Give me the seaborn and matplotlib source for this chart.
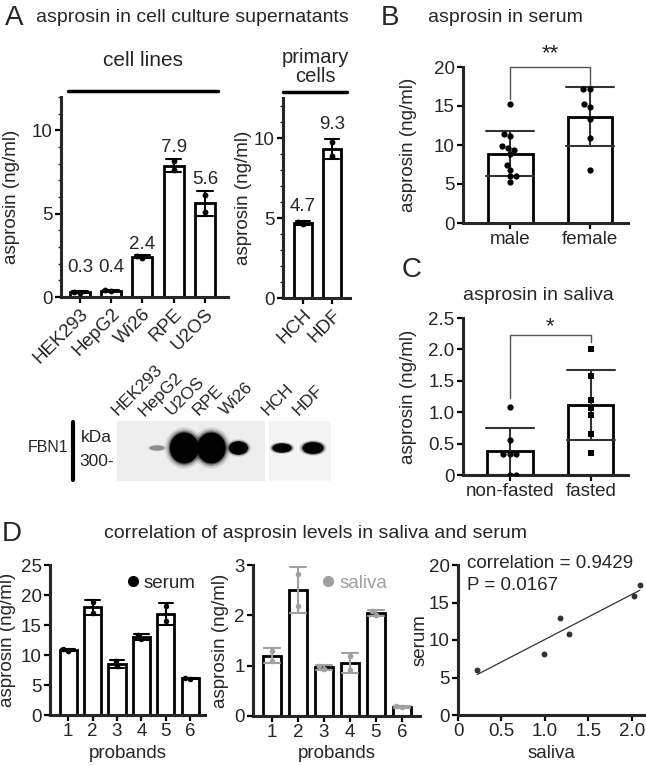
import numpy as np
import pandas as pd
import matplotlib
matplotlib.use("Agg")
import matplotlib.pyplot as plt
import matplotlib.transforms as mtransforms
from matplotlib.patches import Ellipse
from matplotlib.lines import Line2D
import seaborn as sns

# ---- data ----
cell_lines = ["HEK293", "HepG2", "Wi26", "RPE", "U2OS"]
cell_line_reps = [[0.25, 0.32], [0.36, 0.42], [2.35, 2.47], [7.6, 8.15], [5.1, 6.15]]
cell_line_labels = ["0.3", "0.4", "2.4", "7.9", "5.6"]

primary_cells = ["HCH", "HDF"]
primary_reps = [[4.6, 4.78], [8.85, 9.75]]
primary_labels = ["4.7", "9.3"]

serum_groups = ["male", "female"]
serum_male = [15.2, 11.4, 11.1, 9.9, 9.6, 9.4, 8.8, 7.5, 6.8, 6.0, 6.0, 5.2]
serum_female = [17.2, 17.2, 15.2, 14.9, 13.3, 10.9, 6.8]

saliva_groups = ["non-fasted", "fasted"]
saliva_nonfasted = [1.09, 0.56, 0.33, 0.33, 0.33, 0.0, 0.0]
saliva_fasted = [2.0, 1.58, 1.19, 1.06, 0.96, 0.66, 0.35]

probands = ["1", "2", "3", "4", "5", "6"]
proband_serum = [[10.7, 11.0], [17.0, 18.85], [8.1, 9.0], [12.7, 13.4], [15.6, 18.2], [6.0, 6.2]]
proband_saliva = [[1.1, 1.3], [2.18, 2.82], [0.93, 1.0], [0.92, 1.2], [2.0, 2.08], [0.17, 0.2]]

corr_saliva = [0.22, 0.99, 1.17, 1.28, 2.02, 2.09]
corr_serum = [6.0, 8.2, 12.9, 10.8, 15.9, 17.3]

blot_lanes_left = ["HEK293", "HepG2", "U2OS", "RPE", "Wi26"]
blot_lanes_right = ["HCH", "HDF"]
band_left = [0.0, 0.05, 1.0, 1.0, 0.35]
band_right = [0.2, 0.3]

GRAY = "#a0a0a0"
W, H = 646, 766
TICK = 13.5
LABEL = 13.5
TITLE = 14

sns.set_theme(style="ticks")
plt.rcParams["font.family"] = ["Liberation Sans", "DejaVu Sans"]
plt.rcParams["axes.linewidth"] = 2.2

fig = plt.figure(figsize=(W / 100, H / 100), dpi=100)


def px_axes(left, top, right, bottom):
    return fig.add_axes([left / W, 1 - bottom / H, (right - left) / W, (bottom - top) / H])


def ftext(x, y, s, **kw):
    kw.setdefault("ha", "center")
    kw.setdefault("va", "center")
    return fig.text(x / W, 1 - y / H, s, **kw)


def long_df(names, reps):
    rows = [(n, v) for n, r in zip(names, reps) for v in r]
    return pd.DataFrame(rows, columns=["group", "value"])


def style(ax, ylabel, ylabel_x, left, right):
    sns.despine(ax=ax)
    ax.tick_params(width=1.6, length=4, labelsize=TICK, pad=2, color="black")
    ax.set_xlabel("")
    ax.set_ylabel(ylabel, fontsize=LABEL)
    ax.yaxis.set_label_coords((ylabel_x - left) / (right - left), 0.5)


def bars(ax, df, order, width, capsize, pt_color="black", err_color="black", size=4.5):
    sns.barplot(data=df, x="group", y="value", order=order, errorbar="sd",
                color="white", edgecolor="black", linewidth=2, width=width,
                capsize=capsize, err_kws={"color": err_color, "linewidth": 1.5}, ax=ax)
    sns.swarmplot(data=df, x="group", y="value", order=order, color=pt_color,
                  size=size, ax=ax)


# ---- panel A: cell lines ----
ax = px_axes(61, 97, 228, 297)
df = long_df(cell_lines, cell_line_reps)
bars(ax, df, cell_lines, 0.64, 0.5, size=4.2)
ax.set_ylim(0, 12)
ax.set_xlim(-0.61, 4.74)
ax.set_yticks([0, 5, 10])
ax.set_yticks(range(0, 13), minor=True)
stats = df.groupby("group", sort=False)["value"].agg(["mean", "std"])
for i, name in enumerate(cell_lines):
    top = max(stats.loc[name, "mean"] + stats.loc[name, "std"], 1.1)
    ax.annotate(cell_line_labels[i], (i, top), xytext=(0, 2), textcoords="offset points",
                ha="center", va="bottom", fontsize=TICK)
style(ax, "asprosin (ng/ml)", 20, 61, 228)
ax.tick_params(axis="y", which="minor", length=2, width=1)
plt.setp(ax.get_xticklabels(), rotation=45, ha="right", rotation_mode="anchor")

# ---- panel A: primary cells ----
ax = px_axes(283, 98, 350, 298)
df = long_df(primary_cells, primary_reps)
bars(ax, df, primary_cells, 0.62, 0.5, size=4.2)
ax.set_ylim(0, 12.5)
ax.set_xlim(-0.69, 1.62)
ax.set_yticks([0, 5, 10])
ax.set_yticks(range(0, 13), minor=True)
stats = df.groupby("group", sort=False)["value"].agg(["mean", "std"])
for i, name in enumerate(primary_cells):
    top = stats.loc[name, "mean"] + stats.loc[name, "std"]
    ax.annotate(primary_labels[i], (i, top), xytext=(0, 4), textcoords="offset points",
                ha="center", va="bottom", fontsize=TICK)
style(ax, "asprosin (ng/ml)", 252, 283, 350)
ax.tick_params(axis="y", which="minor", length=2, width=1)
plt.setp(ax.get_xticklabels(), rotation=45, ha="right", rotation_mode="anchor")

# ---- panel B ----
ax = px_axes(463, 67, 628, 223)
df = long_df(serum_groups, [serum_male, serum_female])
bars(ax, df, serum_groups, 0.56, 0.6, err_color="#333333")
ax.set_ylim(0, 20)
ax.set_xlim(-0.59, 1.475)
ax.set_yticks([0, 5, 10, 15, 20])
ax.plot([0, 0, 1, 1], [15.9, 20, 20, 17.6], color="#555555", lw=1, clip_on=False)
ax.text(0.5, 20.3, "**", ha="center", va="bottom", fontsize=16)
style(ax, "asprosin (ng/ml)", 417, 463, 628)

# ---- panel C ----
ax = px_axes(463, 318, 628, 475)
df = long_df(saliva_groups, [saliva_nonfasted, saliva_fasted])
sns.barplot(data=df, x="group", y="value", order=saliva_groups, errorbar="sd",
            color="white", edgecolor="black", linewidth=2, width=0.56,
            capsize=0.6, err_kws={"color": "#333333", "linewidth": 1.5}, ax=ax)
sns.swarmplot(data=df[df["group"] == "non-fasted"], x="group", y="value", order=saliva_groups,
              color="black", size=4.5, ax=ax)
sns.swarmplot(data=df[df["group"] == "fasted"], x="group", y="value", order=saliva_groups,
              color="black", size=4.5, marker="s", ax=ax)
ax.set_ylim(0, 2.5)
ax.set_xlim(-0.58, 1.46)
ax.set_yticks([0, 0.5, 1.0, 1.5, 2.0, 2.5])
ax.set_yticklabels(["0", "0.5", "1.0", "1.5", "2.0", "2.5"])
ax.plot([0, 0, 1, 1], [1.23, 2.23, 2.23, 2.12], color="#555555", lw=1, clip_on=False)
ax.text(0.5, 2.2, "*", ha="center", va="bottom", fontsize=16)
style(ax, "asprosin (ng/ml)", 417, 463, 628)

# ---- panel D: serum per proband ----
ax = px_axes(50, 565, 205, 715)
df = long_df(probands, proband_serum)
bars(ax, df, probands, 0.7, 0.6, size=4)
ax.set_ylim(0, 25)
ax.set_xlim(-0.74, 5.6)
ax.set_yticks([0, 5, 10, 15, 20, 25])
style(ax, "asprosin (ng/ml)", 16, 50, 205)
ax.set_xlabel("probands", fontsize=LABEL, labelpad=3)
ax.legend(handles=[Line2D([], [], marker="o", ls="", color="black", markersize=7, label="serum")],
          loc="upper right", frameon=False, handletextpad=0.1, borderaxespad=0.1,
          fontsize=LABEL, handlelength=1)

# ---- panel D: saliva per proband ----
ax = px_axes(253, 565, 420, 716)
df = long_df(probands, proband_saliva)
bars(ax, df, probands, 0.7, 0.6, pt_color=GRAY, err_color=GRAY, size=4)
ax.set_ylim(0, 3)
ax.set_xlim(-0.73, 5.7)
ax.set_yticks([0, 1, 2, 3])
style(ax, "asprosin (ng/ml)", 229, 253, 420)
ax.set_xlabel("probands", fontsize=LABEL, labelpad=3)
ax.legend(handles=[Line2D([], [], marker="o", ls="", color=GRAY, markersize=7, label="saliva")],
          loc="upper right", frameon=False, handletextpad=0.1, borderaxespad=0.1,
          fontsize=LABEL, handlelength=1, labelcolor=GRAY, bbox_to_anchor=(0.86, 1.0))

# ---- panel D: correlation ----
ax = px_axes(458, 565, 645, 715)
sns.regplot(x=corr_saliva, y=corr_serum, ci=None, ax=ax,
            scatter_kws={"color": "black", "s": 18, "linewidths": 0},
            line_kws={"color": "#333333", "lw": 0.9})
ax.set_xlim(0, 2.15)
ax.set_ylim(0, 20)
ax.set_xticks([0, 0.5, 1.0, 1.5, 2.0])
ax.set_xticklabels(["0", "0.5", "1.0", "1.5", "2.0"])
ax.set_yticks([0, 5, 10, 15, 20])
style(ax, "serum", 429, 458, 645)
ax.set_xlabel("saliva", fontsize=LABEL, labelpad=3)
ax.text(0.05, 1.01, "correlation = 0.9429", transform=ax.transAxes, fontsize=LABEL, va="center")
ax.text(0.05, 0.86, "P = 0.0167", transform=ax.transAxes, fontsize=LABEL, va="center")


# ---- western blot ----
def blot(ax, lanes, bands, xlim, bg):
    ax.set_facecolor(bg)
    ax.set_xlim(*xlim)
    ax.set_ylim(0, 1)
    ax.set_xticks([])
    ax.set_yticks([])
    for s in ax.spines.values():
        s.set_visible(False)
    for i, b in enumerate(bands):
        if b <= 0:
            continue
        w = 0.5 + 0.55 * b
        h = 0.06 + 0.45 * b
        shade = str(max(0.0, 0.75 - 4 * b))
        for grow, alpha in [(1.35, 0.12), (1.2, 0.25), (1.08, 0.5), (1.0, 1.0)]:
            ax.add_patch(Ellipse((i, 0.55), w * grow, h * grow, color=shade, alpha=alpha, lw=0))
    tr = mtransforms.blended_transform_factory(ax.transData, ax.transAxes)
    for i, name in enumerate(lanes):
        ax.text(i - 0.38, 1.04, name, transform=tr, rotation=45, ha="left", va="bottom",
                rotation_mode="anchor", fontsize=12.5)


blot(px_axes(117, 421, 265, 481), blot_lanes_left, band_left, (-0.48, 4.98), "#eeeeee")
blot(px_axes(269, 421, 331, 481), blot_lanes_right, band_right, (-0.42, 1.58), "#f4f4f4")
ftext(48, 447, "FBN1", fontsize=11.5)
fig.add_artist(Line2D([73 / W, 73 / W], [1 - 422 / H, 1 - 480 / H], color="black", lw=3))
ftext(81, 437, "kDa", fontsize=12.5, ha="left")
ftext(79, 462, "300-", fontsize=12.5, ha="left")

# ---- headings ----
ftext(14, 18, "A", fontsize=20)
ftext(192, 18, "asprosin in cell culture supernatants", fontsize=TITLE)
ftext(390, 18, "B", fontsize=20)
ftext(505, 18, "asprosin in serum", fontsize=TITLE)
ftext(412, 270, "C", fontsize=20)
ftext(538, 295, "asprosin in saliva", fontsize=TITLE)
ftext(12, 534, "D", fontsize=20)
ftext(315, 534, "correlation of asprosin levels in saliva and serum", fontsize=TITLE)
ftext(143, 60, "cell lines", fontsize=15)
fig.add_artist(Line2D([68 / W, 218 / W], [1 - 91 / H, 1 - 91 / H], color="black", lw=2.5))
ftext(315, 67, "primary\ncells", fontsize=14.5, linespacing=0.95)
fig.add_artist(Line2D([283 / W, 347 / W], [1 - 92 / H, 1 - 92 / H], color="black", lw=2.5))

fig.savefig("out.png", dpi=100)
